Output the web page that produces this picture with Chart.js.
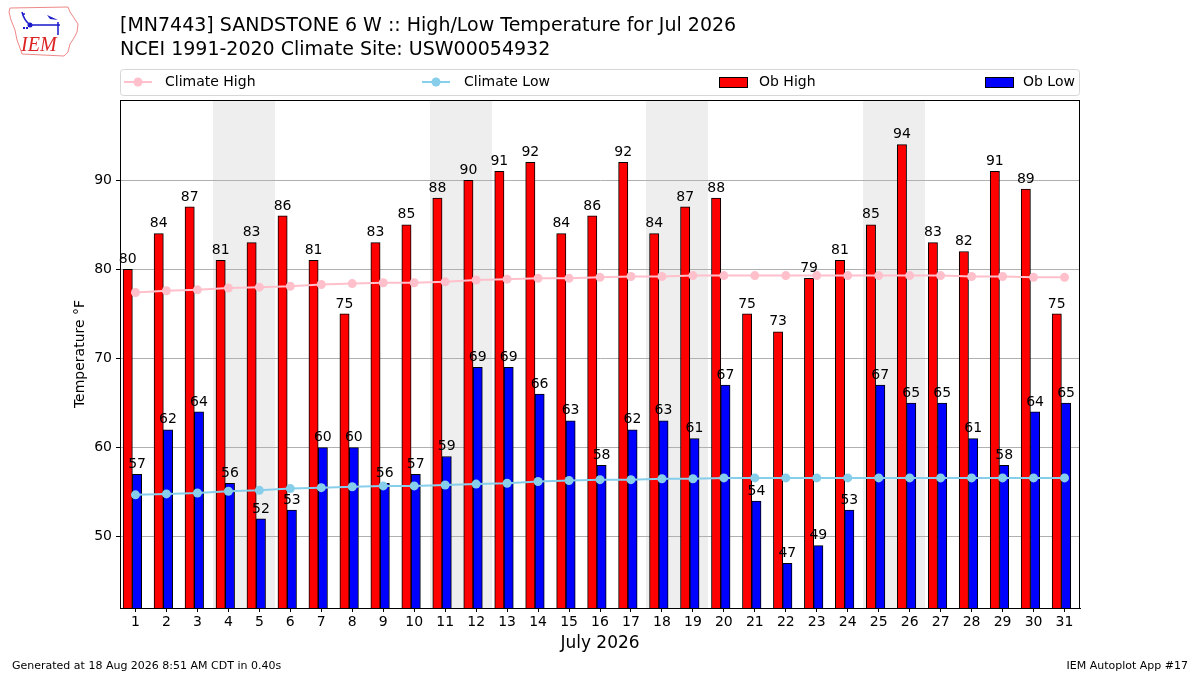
<!DOCTYPE html>
<html>
<head>
<meta charset="utf-8">
<title>High/Low Temperature for Jul 2026</title>
<script src="https://cdn.jsdelivr.net/npm/chart.js@4/dist/chart.umd.min.js"></script>
<style>
    html, body { margin: 0; padding: 0; background: #fff; }
    #wrap { width: 1200px; height: 675px; }
</style>
</head>
<body>
<div id="wrap"><canvas id="tempChart" width="1200" height="675"></canvas></div>
<script>
const days = Array.from({ length: 31 }, (_, i) => i + 1);
const obHigh = [80, 84, 87, 81, 83, 86, 81, 75, 83, 85, 88, 90, 91, 92, 84, 86,
    92, 84, 87, 88, 75, 73, 79, 81, 85, 94, 83, 82, 91, 89, 75];
const obLow = [57, 62, 64, 56, 52, 53, 60, 60, 56, 57, 59, 69, 69, 66, 63, 58,
    62, 63, 61, 67, 54, 47, 49, 53, 67, 65, 65, 61, 58, 64, 65];
const climateHigh = [77.4, 77.6, 77.7, 77.9, 78.0, 78.1, 78.3, 78.4, 78.5, 78.5,
    78.6, 78.8, 78.9, 79.0, 79.0, 79.1, 79.2, 79.2, 79.3, 79.3, 79.3, 79.3, 79.3,
    79.3, 79.3, 79.3, 79.3, 79.2, 79.2, 79.1, 79.1];
const climateLow = [54.7, 54.8, 54.9, 55.1, 55.2, 55.4, 55.5, 55.6, 55.7, 55.7,
    55.8, 55.9, 56.0, 56.2, 56.3, 56.4, 56.4, 56.5, 56.5, 56.6, 56.6, 56.6, 56.6,
    56.6, 56.6, 56.6, 56.6, 56.6, 56.6, 56.6, 56.6];
const weekendDays = [4, 5, 11, 12, 18, 19, 25, 26];
const yTickValues = [50, 60, 70, 80, 90];

const titleLines = [
    '[MN7443] SANDSTONE 6 W :: High/Low Temperature for Jul 2026',
    'NCEI 1991-2020 Climate Site: USW00054932',
];
const footerLeft = 'Generated at 18 Aug 2026 8:51 AM CDT in 0.40s';
const footerRight = 'IEM Autoplot App #17';

const FONT = '"DejaVu Sans", Verdana, sans-serif';
const colors = {
    high: '#ff0000',
    low: '#0000ff',
    climHigh: '#ffc0cb',
    climLow: '#87ceeb',
    weekend: '#eeeeee',
    grid: '#b0b0b0',
};

// weekends shaded under the grid
const backdrop = {
    id: 'backdrop',
    beforeDraw(chart) {
        const { ctx, chartArea, scales } = chart;
        ctx.save();
        ctx.fillStyle = '#fff';
        ctx.fillRect(0, 0, chart.width, chart.height);
        ctx.fillStyle = colors.weekend;
        weekendDays.forEach(d => {
            const x0 = Math.round(scales.x.getPixelForValue(d - 0.5));
            const x1 = Math.round(scales.x.getPixelForValue(d + 0.5));
            ctx.fillRect(x0, chartArea.top, x1 - x0, chartArea.bottom - chartArea.top);
        });
        ctx.restore();
    },
};

function drawLogo(ctx) {
    ctx.save();
    ctx.strokeStyle = '#ee8888';
    ctx.lineWidth = 1;
    ctx.beginPath();
    ctx.moveTo(10, 8);
    ctx.lineTo(68, 7);
    ctx.lineTo(70, 12);
    ctx.lineTo(74, 18);
    ctx.lineTo(78, 24);
    ctx.lineTo(77, 32);
    ctx.lineTo(74, 38);
    ctx.lineTo(70, 44);
    ctx.lineTo(68, 52);
    ctx.lineTo(64, 56);
    ctx.lineTo(22, 54);
    ctx.lineTo(20, 48);
    ctx.lineTo(17, 40);
    ctx.lineTo(15, 30);
    ctx.lineTo(11, 20);
    ctx.lineTo(9, 12);
    ctx.closePath();
    ctx.stroke();

    ctx.strokeStyle = '#1a1acc';
    ctx.fillStyle = '#1a1acc';
    ctx.lineWidth = 1.5;
    ctx.beginPath();
    ctx.moveTo(22, 12);
    ctx.quadraticCurveTo(24, 20, 29, 24);
    ctx.moveTo(22, 14);
    ctx.lineTo(25, 14);
    ctx.moveTo(29, 25);
    ctx.lineTo(60, 25);
    ctx.moveTo(58, 22);
    ctx.lineTo(58, 35);
    ctx.stroke();
    ctx.beginPath();
    ctx.arc(30, 25, 2.5, 0, Math.PI * 2);
    ctx.fill();
    ctx.beginPath();
    ctx.moveTo(47, 15);
    ctx.lineTo(58, 20);
    ctx.lineTo(50, 19);
    ctx.closePath();
    ctx.fill();
    ctx.fillRect(23, 27, 2, 2);
    ctx.fillRect(26, 27, 2, 2);

    ctx.fillStyle = '#dd2222';
    ctx.font = 'italic 20px "Liberation Serif", "DejaVu Serif", serif';
    ctx.textAlign = 'left';
    ctx.textBaseline = 'alphabetic';
    ctx.fillText('IEM', 21, 51);
    ctx.restore();
}

function drawLegend(ctx, area) {
    const top = 69, bottom = 95;
    const mid = (top + bottom) / 2;
    ctx.save();
    ctx.strokeStyle = '#d6d6d6';
    ctx.lineWidth = 1;
    ctx.beginPath();
    ctx.roundRect(area.left + 0.5, top + 0.5, area.right - area.left - 1, bottom - top, 3);
    ctx.stroke();

    ctx.font = '14px ' + FONT;
    ctx.fillStyle = '#000';
    ctx.textBaseline = 'middle';
    ctx.textAlign = 'left';

    const lineItems = [
        { label: 'Climate High', color: colors.climHigh, x: 124, tx: 165 },
        { label: 'Climate Low', color: colors.climLow, x: 422, tx: 464 },
    ];
    lineItems.forEach(item => {
        ctx.strokeStyle = item.color;
        ctx.lineWidth = 2;
        ctx.beginPath();
        ctx.moveTo(item.x, mid);
        ctx.lineTo(item.x + 28, mid);
        ctx.stroke();
        ctx.fillStyle = item.color;
        ctx.beginPath();
        ctx.arc(item.x + 14, mid, 4.5, 0, Math.PI * 2);
        ctx.fill();
        ctx.fillStyle = '#000';
        ctx.fillText(item.label, item.tx, mid);
    });

    const patchItems = [
        { label: 'Ob High', color: colors.high, x: 719, tx: 759 },
        { label: 'Ob Low', color: colors.low, x: 985, tx: 1023 },
    ];
    patchItems.forEach(item => {
        ctx.fillStyle = item.color;
        ctx.fillRect(item.x, mid - 5, 28, 10);
        ctx.strokeStyle = '#000';
        ctx.lineWidth = 1;
        ctx.strokeRect(item.x + 0.5, mid - 4.5, 28, 10);
        ctx.fillStyle = '#000';
        ctx.fillText(item.label, item.tx, mid);
    });
    ctx.restore();
}

// frame, value labels, titles, legend and footer
const decorations = {
    id: 'decorations',
    afterDraw(chart) {
        const { ctx, chartArea } = chart;
        ctx.save();

        ctx.font = '14px ' + FONT;
        ctx.fillStyle = '#000';
        ctx.textAlign = 'center';
        ctx.textBaseline = 'bottom';
        [0, 1].forEach(i => {
            const meta = chart.getDatasetMeta(i);
            const values = chart.data.datasets[i].data;
            meta.data.forEach((bar, j) => {
                ctx.fillText(String(values[j].y), bar.x, bar.y - 3);
            });
        });

        ctx.strokeStyle = '#000';
        ctx.lineWidth = 1;
        ctx.strokeRect(chartArea.left + 0.5, chartArea.top + 0.5,
            chartArea.right - chartArea.left - 1, chartArea.bottom - chartArea.top);

        ctx.textAlign = 'left';
        ctx.textBaseline = 'alphabetic';
        ctx.font = '19px ' + FONT;
        ctx.fillText(titleLines[0], 120, 31);
        ctx.fillText(titleLines[1], 120, 55);

        ctx.font = '11px ' + FONT;
        ctx.fillText(footerLeft, 12, 669);
        ctx.textAlign = 'right';
        ctx.fillText(footerRight, 1188, 669);

        ctx.restore();
        drawLogo(ctx);
        drawLegend(ctx, chartArea);
    },
};

const toPoints = values => values.map((v, i) => ({ x: days[i], y: v }));

new Chart(document.getElementById('tempChart'), {
    type: 'bar',
    data: {
        datasets: [
            {
                label: 'Ob High',
                data: obHigh.map((v, i) => ({ x: days[i] - 0.25, y: v })),
                backgroundColor: colors.high,
                borderColor: '#000',
                borderWidth: 1,
                borderSkipped: 'bottom',
                grouped: false,
                categoryPercentage: 1,
                barPercentage: 1,
                order: 2,
            },
            {
                label: 'Ob Low',
                data: obLow.map((v, i) => ({ x: days[i] + 0.05, y: v })),
                backgroundColor: colors.low,
                borderColor: '#000',
                borderWidth: 1,
                borderSkipped: 'bottom',
                grouped: false,
                categoryPercentage: 1,
                barPercentage: 1,
                order: 2,
            },
            {
                type: 'line',
                label: 'Climate High',
                data: toPoints(climateHigh),
                borderColor: colors.climHigh,
                backgroundColor: colors.climHigh,
                borderWidth: 2,
                pointRadius: 4.5,
                pointBorderWidth: 0,
                tension: 0,
                order: 1,
            },
            {
                type: 'line',
                label: 'Climate Low',
                data: toPoints(climateLow),
                borderColor: colors.climLow,
                backgroundColor: colors.climLow,
                borderWidth: 2,
                pointRadius: 4.5,
                pointBorderWidth: 0,
                tension: 0,
                order: 1,
            },
        ],
    },
    options: {
        responsive: false,
        animation: false,
        devicePixelRatio: 1,
        layout: { padding: { left: 0, top: 100, right: 120, bottom: 0 } },
        plugins: {
            legend: { display: false },
            tooltip: { enabled: false },
        },
        scales: {
            x: {
                type: 'linear',
                min: 0.5,
                max: 31.5,
                offset: false,
                afterBuildTicks(scale) {
                    scale.ticks = days.map(d => ({ value: d }));
                },
                afterFit(scale) {
                    scale.height = 67;
                },
                grid: {
                    offset: false,
                    drawOnChartArea: false,
                    drawTicks: true,
                    tickLength: 4,
                    tickColor: '#000',
                },
                border: { display: true, color: '#000', width: 1 },
                ticks: {
                    color: '#000',
                    padding: 2,
                    maxRotation: 0,
                    autoSkip: false,
                    font: { family: FONT, size: 14 },
                },
                title: {
                    display: true,
                    text: 'July 2026',
                    color: '#000',
                    font: { family: FONT, size: 17 },
                    padding: { top: 0, bottom: 21 },
                },
            },
            y: {
                min: 42,
                max: 99,
                afterBuildTicks(scale) {
                    scale.ticks = yTickValues.map(v => ({ value: v }));
                },
                afterFit(scale) {
                    scale.width = 120;
                },
                grid: {
                    color: colors.grid,
                    lineWidth: 1,
                    drawTicks: true,
                    tickLength: 4,
                    tickColor: '#000',
                },
                border: { display: true, color: '#000', width: 1 },
                ticks: {
                    color: '#000',
                    padding: 4,
                    font: { family: FONT, size: 14 },
                },
                title: {
                    display: true,
                    text: 'Temperature °F',
                    color: '#000',
                    font: { family: FONT, size: 14 },
                    padding: { top: 72, bottom: 0 },
                },
            },
        },
    },
    plugins: [backdrop, decorations],
});
</script>
</body>
</html>
